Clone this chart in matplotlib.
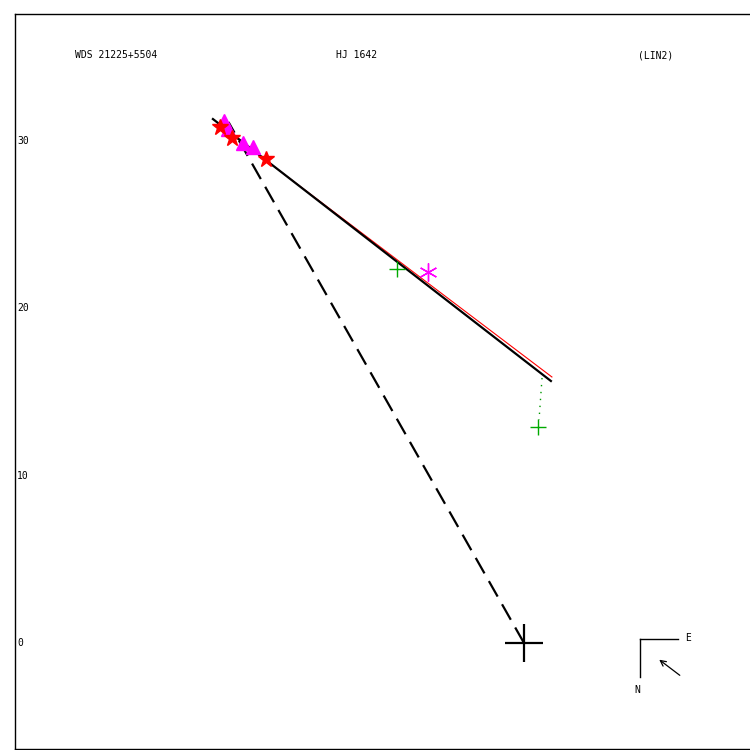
import matplotlib
matplotlib.use("Agg")
import matplotlib.pyplot as plt
from matplotlib.transforms import blended_transform_factory

# ---- data (arcsec, x positive toward right, y positive up) ----
title_left = "WDS 21225+5504"
title_mid = "HJ 1642"
title_right = "(LIN2)"
ytick_vals = [0, 10, 20, 30]

tri_x = [-17.93, -17.71, -16.80, -16.20]
tri_y = [31.20, 30.72, 29.89, 29.65]
star_x = [-18.17, -17.45, -15.42]
star_y = [30.84, 30.16, 28.95]
ast_x = [-5.74]
ast_y = [22.18]
green_x = [-7.59, 0.84]
green_y = [22.36, 12.91]
orbit_x = [-18.59, 1.61]
orbit_y = [31.32, 15.66]
red_x = [-18.29, 1.67]
red_y = [31.02, 15.90]
dash_x = [0.0, -17.66]
dash_y = [0.0, 31.14]
dot_x = [1.08, 0.90]
dot_y = [15.84, 13.33]

fig = plt.figure(figsize=(7.5, 7.5), dpi=100)
W = H = 750.0
ax = fig.add_axes([15 / W, 1 - 749 / H, (750 - 15) / W, (749 - 14) / H])
ax.set_xlim(-30.42, 13.51)
ax.set_ylim(-6.34, 37.60)
ax.set_xticks([])
ax.set_yticks([])
ax.spines['right'].set_visible(False)
for s in ['left', 'top', 'bottom']:
    ax.spines[s].set_linewidth(1.0)

mono = "DejaVu Sans Mono"
fs = 7.0

# y tick labels drawn inside the frame
tr = blended_transform_factory(ax.transAxes, ax.transData)
for v in ytick_vals:
    ax.text(0.003, v, str(v), transform=tr, ha='left', va='center', family=mono, fontsize=fs)

# header texts
ax.text((75 - 15) / 735, 1 - (55 - 14) / 735, title_left, transform=ax.transAxes,
        ha='left', va='center', family=mono, fontsize=fs)
ax.text((357 - 15) / 735, 1 - (55 - 14) / 735, title_mid, transform=ax.transAxes,
        ha='center', va='center', family=mono, fontsize=fs)
ax.text((638 - 15) / 735, 1 - (55 - 14) / 735, title_right, transform=ax.transAxes,
        ha='left', va='center', family=mono, fontsize=fs)

# lines
ax.plot(dash_x, dash_y, color='black', lw=1.6, dashes=(8, 4))
ax.plot(red_x, red_y, color='red', lw=0.8, zorder=3)
ax.plot(orbit_x, orbit_y, color='black', lw=1.6, zorder=4)
ax.plot(dot_x, dot_y, color='#009900', lw=1.0, ls=(0, (1, 4)), zorder=3)

# markers
ax.plot(tri_x, tri_y, ls='none', marker='^', ms=10, color='magenta', mec='magenta', zorder=5)
ax.plot(star_x, star_y, ls='none', marker='*', ms=12, color='red', mec='red', zorder=6)
ax.plot(ast_x, ast_y, ls='none', marker=(6, 2, 0), ms=13, mew=1.0, color='magenta', zorder=5)
ax.plot(green_x, green_y, ls='none', marker='+', ms=11, mew=1.0, color='#00aa00', zorder=5)
ax.plot([0], [0], ls='none', marker='+', ms=27, mew=1.6, color='black', zorder=6)

# compass
def px(xp, yp):
    return ((xp - 15) / 735, 1 - (yp - 14) / 735)

ax.plot(*zip(px(640, 639), px(678, 639)), transform=ax.transAxes, color='black', lw=1.0)
ax.plot(*zip(px(640, 639), px(640, 677)), transform=ax.transAxes, color='black', lw=1.0)
ax.text(*px(688, 638), "E", transform=ax.transAxes, ha='center', va='center', family=mono, fontsize=fs)
ax.text(*px(637, 690), "N", transform=ax.transAxes, ha='center', va='center', family=mono, fontsize=fs)
ax.annotate("", xy=px(657, 658), xytext=px(682, 677), xycoords='axes fraction',
            textcoords='axes fraction',
            arrowprops=dict(arrowstyle='->', color='black', lw=0.9, mutation_scale=10))

fig.savefig("out.png", dpi=100)
